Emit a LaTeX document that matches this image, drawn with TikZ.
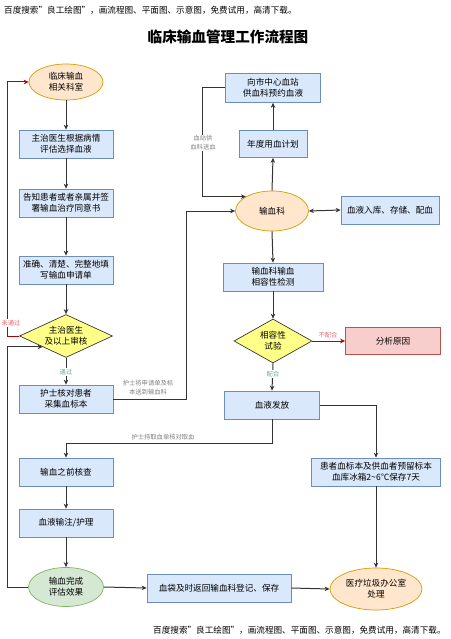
\documentclass[tikz,border=0pt]{standalone}
\usepackage{fontspec}
\setmainfont{Noto Sans CJK SC}
\usetikzlibrary{shapes.geometric,arrows.meta}
\definecolor{boxfill}{HTML}{DAE8FC}
\definecolor{boxline}{HTML}{6C8EBF}
\definecolor{orfill}{HTML}{FFE6CC}
\definecolor{orline}{HTML}{D79B00}
\definecolor{grfill}{HTML}{D5E8D4}
\definecolor{grline}{HTML}{82B366}
\definecolor{rdfill}{HTML}{F8CECC}
\definecolor{rdline}{HTML}{B85450}
\definecolor{yefill}{HTML}{FFFF88}
\definecolor{yeline}{HTML}{36393D}
\definecolor{conncol}{HTML}{333333}
\definecolor{redconncol}{HTML}{B20000}
\definecolor{lblgray}{HTML}{808080}
\definecolor{lblgreen}{HTML}{67AB9F}
\definecolor{lblred}{HTML}{EA6B66}
\begin{document}
\begin{tikzpicture}[x=1pt,y=-1pt,
  txt/.style={font=\fontsize{8.6}{11}\selectfont, align=center},
  pbox/.style={txt, rectangle, draw=boxline, fill=boxfill, line width=0.7pt, minimum width=94pt, minimum height=28pt, inner sep=1pt},
  orell/.style={txt, ellipse, draw=orline, fill=orfill, line width=0.7pt, inner sep=0pt},
  grell/.style={txt, ellipse, draw=grline, fill=grfill, line width=0.7pt, inner sep=0pt},
  ydia/.style={txt, diamond, draw=yeline, fill=yefill, line width=0.7pt, inner sep=0pt},
  conn/.style={draw=conncol, line width=1pt, -{Stealth[length=5pt,width=4.5pt]}},
  redconn/.style={draw=redconncol, line width=1pt, -{Stealth[length=5pt,width=4.5pt]}},
  lbl/.style={font=\fontsize{6.3}{9}\selectfont, text=lblgray, align=center, inner sep=1pt},
  glbl/.style={font=\fontsize{6.3}{9}\selectfont, text=lblgreen, fill=white, inner sep=1pt},
  rlbl/.style={font=\fontsize{6.3}{9}\selectfont, text=lblred, fill=white, inner sep=1pt},
  note/.style={font=\fontsize{8.6}{9}\selectfont, anchor=west, inner sep=0pt}
]
\useasboundingbox[fill=white] (0,0) rectangle (450,639);

% header, title, footer
\node[note] (hdr) at (4,10) {百度搜索"良工绘图"，画流程图、平面图、示意图，免费试用，高清下载。};
\node[font=\fontsize{14.6}{16}\selectfont\bfseries] (title) at (228,37) {临床输血管理工作流程图};
\node[note] (ftr) at (153,630) {百度搜索"良工绘图"，画流程图、平面图、示意图，免费试用，高清下载。};

% left column
\node[orell, minimum width=74pt, minimum height=36pt] (lc) at (66,82) {临床输血\\相关科室};
\node[pbox] (b1) at (66,144) {主治医生根据病情\\评估选择血液};
\node[pbox] (b2) at (66,203) {告知患者或者亲属并签\\署输血治疗同意书};
\node[pbox] (b3) at (66,270) {准确、清楚、完整地填\\写输血申请单};
\node[ydia, aspect=2.16, minimum width=93pt, minimum height=43pt] (d1) at (66,336) {主治医生\\及以上审核};
\node[pbox] (b4) at (66,399) {护士核对患者\\采集血标本};
\node[pbox] (b5) at (66,472) {输血之前核查};
\node[pbox] (b6) at (66,523) {血液输注/护理};
\node[grell, minimum width=75pt, minimum height=39pt] (e2) at (66,587) {输血完成\\评估效果};
\node[pbox, minimum width=144pt] (b7) at (219,588) {血袋及时返回输血科登记、保存};
\node[orell, minimum width=92pt, minimum height=42pt] (e3) at (376,589) {医疗垃圾办公室\\处理};

% right column
\node[pbox, minimum width=95pt, minimum height=29pt] (r1) at (273,88) {向市中心血站\\供血科预约血液};
\node[pbox, minimum width=68pt, minimum height=27pt] (r2) at (273,144) {年度用血计划};
\node[orell, minimum width=73pt, minimum height=40pt] (sx) at (272,211) {输血科};
\node[pbox, minimum width=98pt] (r3) at (390,210) {血液入库、存储、配血};
\node[pbox, minimum width=100pt] (r4) at (273,277) {输血科输血\\相容性检测};
\node[ydia, aspect=1.77, minimum width=78pt, minimum height=44pt] (d2) at (273,341) {相容性\\试验};
\node[txt, rectangle, draw=rdline, fill=rdfill, line width=0.7pt, minimum width=95pt, minimum height=27pt] (r5) at (393,341) {分析原因};
\node[pbox, minimum width=95pt] (r6) at (272,405) {血液发放};
\node[pbox, minimum width=129pt] (r7) at (376,472) {患者血标本及供血者预留标本\\血库冰箱2{\char"7E}6℃保存7天};

% left column connectors
\draw[conn] (lc.south) -- (b1.north);
\draw[conn] (b1.south) -- (b2.north);
\draw[conn] (b2.south) -- (b3.north);
\draw[conn] (b3.south) -- (d1.north);
\draw[conn] (d1.south) -- (b4.north);
\node[glbl] (pass) at (66,372) {通过};
\draw[redconn] (d1.west) -- ++(-12,0) |- (lc.west);
\node[rlbl] (fail) at (11,323) {未通过};
\draw[conn] (b5.south) -- (b6.north);
\draw[conn] (b6.south) -- (e2.north);
\draw[conn] (e2.west) -- ++(-21,0) |- (d1.south west);
\draw[conn] (e2.east) -- (b7.west);
\draw[conn] (b7.east) -- (e3.west);

% nurse sends to blood dept
\draw[conn] (b4.east) -- ++(73,0) |- (sx.west);
\node[lbl] (send) at (148,388) {护士将申请单及标\\本送到输血科};

% right column connectors
\draw[conn] (sx.north) -- (r2.south);
\draw[conn] (r2.north) -- (r1.south);
\draw[conn] (r1.west) -- ++(-23,0) |- (sx.north west);
\node[lbl, fill=white] (supply) at (203,143) {血站供\\血科送血};
\draw[draw=conncol, line width=1pt, {Stealth[length=5pt,width=4.5pt]}-{Stealth[length=5pt,width=4.5pt]}] (sx.east) -- (r3.west);
\draw[conn] (sx.south) -- (r4.north);
\draw[conn] (r4.south) -- (d2.north);
\draw[conn] (d2.south) -- (r6.north);
\node[glbl] (match) at (273,374) {配合};
\draw[redconn] (d2.east) -- (r5.west);
\node[rlbl] (nomatch) at (328,335) {不配合};
\draw[conn] (r6.east) -| (r7.north);
\draw[conn] (r7.south) -- (e3.north);
\draw[conn] (r6.south) -- ++(0,24) -| (b5.north);
\node[lbl] (fetch) at (163,437) {护士持取血单核对取血};
\end{tikzpicture}
\end{document}
